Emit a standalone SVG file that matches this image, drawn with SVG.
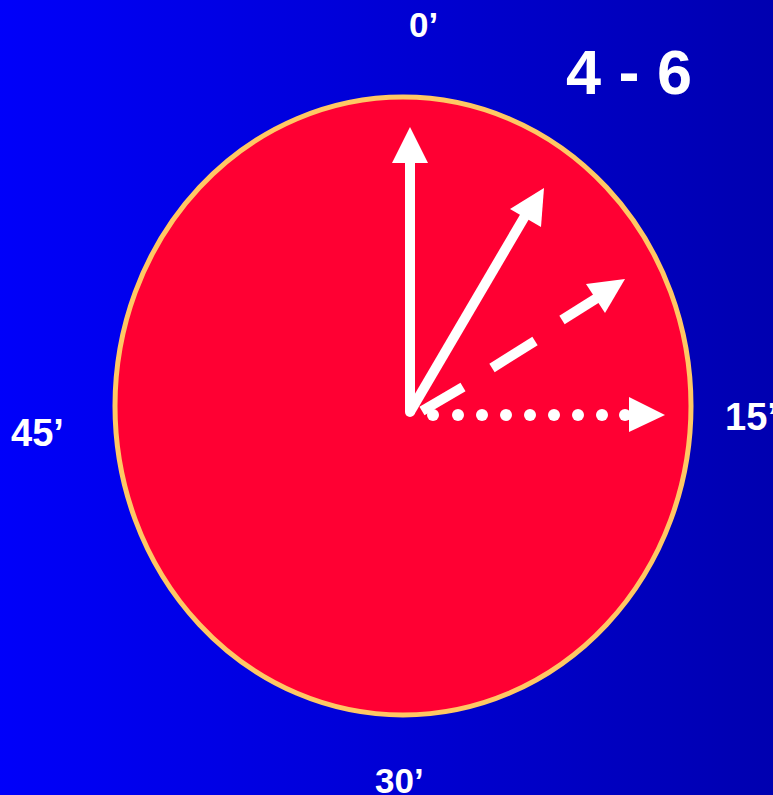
<svg xmlns="http://www.w3.org/2000/svg" width="773" height="795" viewBox="0 0 773 795">
  <defs>
    <linearGradient id="bg" x1="0" y1="0" x2="1" y2="0">
      <stop offset="0" stop-color="#0000FA"/>
      <stop offset="1" stop-color="#0000B0"/>
    </linearGradient>
  </defs>
  <style>
    .lbl { font-family: "Liberation Sans", Arial, sans-serif; font-weight: bold; fill: #FFFFFF; }
    .shaft { stroke: #FFFFFF; stroke-width: 10; fill: none; }
    .head { fill: #FFFFFF; }
  </style>
  <rect x="0" y="0" width="773" height="795" fill="url(#bg)"/>
  <g id="dial">
    <ellipse cx="403" cy="406" rx="288" ry="309" fill="#FF0033" stroke="#FFC864" stroke-width="5"/>
  </g>
  <g id="arrows">
    <g id="arrow-0">
      <line class="shaft" x1="410" y1="412" x2="410" y2="160" stroke-linecap="round"/>
      <polygon class="head" points="410,127 428,163 392,163"/>
    </g>
    <g id="arrow-solid-diag">
      <line class="shaft" x1="410" y1="412" x2="525" y2="216"/>
      <polygon class="head" points="544,188 541,227 510,209"/>
    </g>
    <g id="arrow-dashed">
      <line class="shaft" x1="422" y1="411" x2="463" y2="387"/>
      <line class="shaft" x1="492" y1="368" x2="535" y2="341"/>
      <line class="shaft" x1="562" y1="320" x2="597" y2="298"/>
      <polygon class="head" points="625,279 605,313 586,284"/>
    </g>
    <g id="arrow-dotted" fill="#FFFFFF">
      <circle cx="433" cy="415" r="6"/>
      <circle cx="458" cy="415" r="6"/>
      <circle cx="482" cy="415" r="6"/>
      <circle cx="506" cy="415" r="6"/>
      <circle cx="530" cy="415" r="6"/>
      <circle cx="554" cy="415" r="6"/>
      <circle cx="578" cy="415" r="6"/>
      <circle cx="602" cy="415" r="6"/>
      <circle cx="625" cy="415" r="6"/>
      <polygon class="head" points="665,415 629,432 629,397"/>
    </g>
  </g>
  <g id="labels">
    <text class="lbl" x="409" y="37" font-size="35">0’</text>
    <text class="lbl" x="566" y="94" font-size="63">4 - 6</text>
    <text class="lbl" x="11" y="446" font-size="38">45’</text>
    <text class="lbl" x="725" y="430" font-size="38">15’</text>
    <text class="lbl" x="375" y="793" font-size="35">30’</text>
  </g>
</svg>
